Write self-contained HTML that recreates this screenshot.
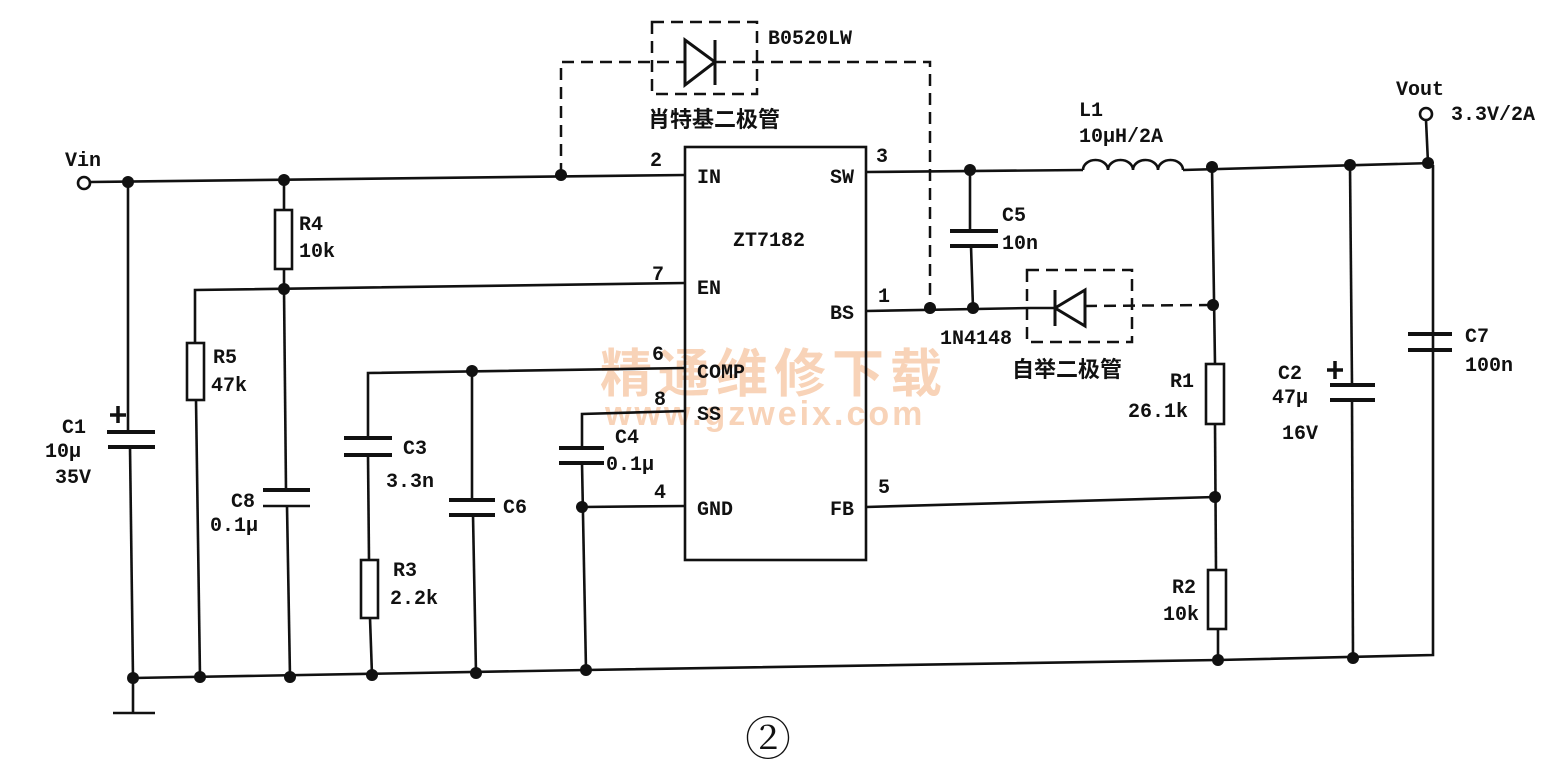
<!DOCTYPE html>
<html><head><meta charset="utf-8"><style>
html,body{margin:0;padding:0;background:#fff;}
svg{display:block;}
text{font-family:"Liberation Mono","Noto Sans CJK SC",monospace;font-size:20px;fill:#111;font-weight:bold;}
.cn{font-family:"Liberation Sans","Noto Sans CJK SC",sans-serif;font-size:22px;}
</style></head><body>
<svg width="1560" height="776" viewBox="0 0 1560 776" xmlns="http://www.w3.org/2000/svg">
<!-- watermark -->
<text x="600" y="392" style="font-family:'Noto Sans CJK SC',sans-serif;font-size:52px;fill:#f8d3b8;font-weight:bold;letter-spacing:6px">精通维修下载</text>
<text x="605" y="425" style="font-family:'Liberation Sans',sans-serif;font-size:34px;fill:#f8d3b8;font-weight:bold;letter-spacing:3px">www.gzweix.com</text>
<g stroke="#111" stroke-width="2.6" fill="none">
<line x1="90" y1="182" x2="685" y2="175"/>
<circle cx="84" cy="183" r="6" fill="#fff"/>
<rect x="685" y="147" width="181" height="413"/>
<polyline points="133,678 586,670 1218,660 1433,655 1433,165"/>
<line x1="133" y1="678" x2="133" y2="713"/>
<line x1="113" y1="713" x2="155" y2="713"/>
<!-- C1 -->
<line x1="128" y1="182" x2="128" y2="432"/>
<line x1="130" y1="447" x2="133" y2="678"/>
<line x1="107" y1="432" x2="155" y2="432" stroke-width="4"/>
<line x1="108" y1="447" x2="155" y2="447" stroke-width="4"/>
<line x1="110" y1="415" x2="126" y2="415" stroke-width="3.5"/>
<line x1="118" y1="406" x2="118" y2="423" stroke-width="3.5"/>
<!-- R4 -->
<line x1="284" y1="180" x2="284" y2="210"/>
<rect x="275" y="210" width="17" height="59"/>
<line x1="284" y1="269" x2="284" y2="289"/>
<!-- EN wire -->
<polyline points="195,343 195,290 685,283"/>
<!-- R5 -->
<rect x="187" y="343" width="17" height="57"/>
<line x1="196" y1="400" x2="200" y2="677"/>
<!-- C8 -->
<line x1="284" y1="289" x2="286" y2="490"/>
<line x1="263" y1="490" x2="310" y2="490" stroke-width="4"/>
<line x1="263" y1="506" x2="310" y2="506" stroke-width="2.5"/>
<line x1="287" y1="506" x2="290" y2="677"/>
<!-- COMP wire -->
<polyline points="368,438 368,373 685,368"/>
<!-- C3 -->
<line x1="344" y1="438" x2="392" y2="438" stroke-width="4"/>
<line x1="344" y1="455" x2="392" y2="455" stroke-width="4"/>
<line x1="368" y1="455" x2="369" y2="560"/>
<rect x="361" y="560" width="17" height="58"/>
<line x1="370" y1="618" x2="372" y2="675"/>
<!-- C6 -->
<line x1="472" y1="371" x2="472" y2="500"/>
<line x1="449" y1="500" x2="495" y2="500" stroke-width="4"/>
<line x1="449" y1="515" x2="495" y2="515" stroke-width="4"/>
<line x1="473" y1="515" x2="476" y2="673"/>
<!-- SS / C4 -->
<polyline points="582,448 582,414 685,411"/>
<line x1="559" y1="448" x2="604" y2="448" stroke-width="4"/>
<line x1="559" y1="463" x2="604" y2="463" stroke-width="4"/>
<line x1="582" y1="463" x2="586" y2="670"/>
<line x1="582" y1="507" x2="685" y2="506"/>
<!-- SW -->
<line x1="866" y1="172" x2="1083" y2="170"/>
<path d="M1083,170 a12.5,10 0 0 1 25,0 a12.5,10 0 0 1 25,0 a12.5,10 0 0 1 25,0 a12.5,10 0 0 1 25,0"/>
<line x1="1183" y1="170" x2="1433" y2="163"/>
<circle cx="1426" cy="114" r="6" fill="#fff"/>
<line x1="1426" y1="120" x2="1428" y2="163"/>
<!-- C5 -->
<line x1="970" y1="170" x2="970" y2="231"/>
<line x1="950" y1="231" x2="998" y2="231" stroke-width="4"/>
<line x1="950" y1="246" x2="998" y2="246" stroke-width="4"/>
<line x1="971" y1="246" x2="973" y2="308"/>
<line x1="866" y1="311" x2="1030" y2="308"/>
<!-- 1N4148 -->
<line x1="1030" y1="308" x2="1055" y2="308"/>
<polygon points="1055,308 1085,290 1085,326" stroke-width="3"/>
<line x1="1055" y1="290" x2="1055" y2="326" stroke-width="3"/>
<!-- R1/R2 -->
<line x1="1212" y1="167" x2="1215" y2="364"/>
<rect x="1206" y="364" width="18" height="60"/>
<line x1="1215" y1="424" x2="1216" y2="570"/>
<rect x="1208" y="570" width="18" height="59"/>
<line x1="1218" y1="629" x2="1218" y2="660"/>
<line x1="866" y1="507" x2="1215" y2="497"/>
<!-- C2 -->
<line x1="1350" y1="165" x2="1352" y2="385"/>
<line x1="1330" y1="385" x2="1375" y2="385" stroke-width="4"/>
<line x1="1330" y1="400" x2="1375" y2="400" stroke-width="4"/>
<line x1="1352" y1="400" x2="1353" y2="658"/>
<line x1="1327" y1="370" x2="1343" y2="370" stroke-width="3.5"/>
<line x1="1335" y1="361" x2="1335" y2="379" stroke-width="3.5"/>
<!-- C7 -->
<line x1="1408" y1="334" x2="1452" y2="334" stroke-width="4"/>
<line x1="1408" y1="350" x2="1452" y2="350" stroke-width="4"/>
</g>
<g stroke="#111" stroke-width="2.5" fill="none" stroke-dasharray="12,7">
<polyline points="561,175 561,62 930,62 930,308"/>
<rect x="652" y="22" width="105" height="72"/>
<rect x="1027" y="270" width="105" height="72"/>
<line x1="1085" y1="306" x2="1212" y2="305"/>
</g>
<g stroke="#111" stroke-width="3" fill="#fff">
<polygon points="685,40 715,62 685,85"/>
<line x1="715" y1="40" x2="715" y2="85"/>
</g>
<g fill="#111">
<circle cx="128" cy="182" r="6"/><circle cx="284" cy="180" r="6"/><circle cx="561" cy="175" r="6"/>
<circle cx="284" cy="289" r="6"/><circle cx="472" cy="371" r="6"/><circle cx="582" cy="507" r="6"/>
<circle cx="133" cy="678" r="6"/><circle cx="200" cy="677" r="6"/><circle cx="290" cy="677" r="6"/>
<circle cx="372" cy="675" r="6"/><circle cx="476" cy="673" r="6"/><circle cx="586" cy="670" r="6"/>
<circle cx="1218" cy="660" r="6"/><circle cx="1353" cy="658" r="6"/>
<circle cx="970" cy="170" r="6"/><circle cx="1212" cy="167" r="6"/><circle cx="1350" cy="165" r="6"/><circle cx="1428" cy="163" r="6"/>
<circle cx="930" cy="308" r="6"/><circle cx="973" cy="308" r="6"/><circle cx="1213" cy="305" r="6"/><circle cx="1215" cy="497" r="6"/>
</g>
<text x="65" y="166">Vin</text>
<text x="62" y="433">C1</text>
<text x="45" y="457">10μ</text>
<text x="55" y="483">35V</text>
<text x="299" y="230">R4</text>
<text x="299" y="257">10k</text>
<text x="213" y="363">R5</text>
<text x="211" y="391">47k</text>
<text x="231" y="507">C8</text>
<text x="210" y="531">0.1μ</text>
<text x="403" y="454">C3</text>
<text x="386" y="487">3.3n</text>
<text x="503" y="513">C6</text>
<text x="393" y="576">R3</text>
<text x="390" y="604">2.2k</text>
<text x="615" y="443">C4</text>
<text x="606" y="470">0.1μ</text>
<text x="650" y="166">2</text>
<text x="652" y="280">7</text>
<text x="652" y="360">6</text>
<text x="654" y="405">8</text>
<text x="654" y="498">4</text>
<text x="697" y="183">IN</text>
<text x="697" y="294">EN</text>
<text x="697" y="378">COMP</text>
<text x="697" y="420">SS</text>
<text x="697" y="515">GND</text>
<text x="830" y="183">SW</text>
<text x="830" y="319">BS</text>
<text x="830" y="515">FB</text>
<text x="733" y="246">ZT7182</text>
<text x="876" y="162">3</text>
<text x="878" y="302">1</text>
<text x="878" y="493">5</text>
<text x="768" y="44">B0520LW</text>
<text class="cn" x="648" y="127">肖特基二极管</text>
<text x="1002" y="221">C5</text>
<text x="1002" y="249">10n</text>
<text x="1079" y="116">L1</text>
<text x="1079" y="142">10μH/2A</text>
<text x="1396" y="95">Vout</text>
<text x="1451" y="120">3.3V/2A</text>
<text x="940" y="344">1N4148</text>
<text class="cn" x="1012" y="377">自举二极管</text>
<text x="1170" y="387">R1</text>
<text x="1128" y="417">26.1k</text>
<text x="1172" y="593">R2</text>
<text x="1163" y="620">10k</text>
<text x="1278" y="379">C2</text>
<text x="1272" y="403">47μ</text>
<text x="1282" y="439">16V</text>
<text x="1465" y="342">C7</text>
<text x="1465" y="371">100n</text>
<text x="745" y="755" style="font-family:'Liberation Serif','Noto Serif CJK SC',serif;font-size:46px;font-weight:normal">②</text>
</svg>
</body></html>
